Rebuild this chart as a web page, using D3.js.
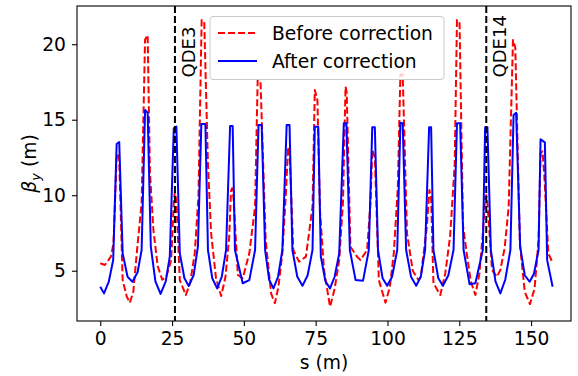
<!DOCTYPE html>
<html>
<head>
<meta charset="utf-8">
<script src="https://cdn.jsdelivr.net/npm/d3@7"></script>
<style>
  body { margin: 0; background: #fff; }
  svg text { font-family: "DejaVu Sans", sans-serif; }
</style>
</head>
<body>
<svg id="chart" width="578" height="376"></svg>
<script>
// Beta function along the ring, before and after correction
const sBefore = [0.0, 1.6, 3.7, 4.6, 5.7, 6.2, 6.6, 7.8, 9.2, 10.3, 11.5, 12.7, 14.4, 15.6, 16.5, 17.3, 18.5, 20.0, 21.6, 23.0, 24.7, 25.6, 26.0, 26.5, 27.7, 29.8, 31.3, 32.9, 34.2, 35.3, 36.2, 37.5, 38.6, 40.3, 42.1, 43.6, 44.9, 45.5, 45.9, 46.4, 47.9, 49.6, 51.9, 53.9, 54.8, 55.8, 57.6, 59.5, 60.8, 62.0, 63.4, 64.6, 65.4, 65.9, 67.2, 69.2, 71.6, 73.9, 74.7, 75.6, 76.5, 77.9, 80.0, 81.6, 83.2, 84.5, 85.4, 85.8, 87.1, 89.4, 90.6, 92.9, 94.1, 94.7, 95.6, 97.0, 99.3, 100.8, 102.2, 103.6, 104.5, 105.3, 106.8, 108.8, 110.8, 111.6, 113.7, 114.6, 115.2, 116.0, 118.4, 120.1, 121.8, 123.4, 124.2, 125.1, 126.3, 127.6, 129.0, 130.6, 132.0, 133.2, 134.0, 134.4, 134.8, 136.4, 138.1, 139.3, 140.8, 142.2, 143.7, 144.5, 146.1, 147.8, 149.6, 151.2, 152.6, 153.3, 154.0, 154.7, 156.0, 157.5];
const betaBefore = [5.49, 5.38, 5.93, 6.8, 12.5, 12.77, 12.3, 4.38, 3.3, 2.88, 3.6, 6.15, 9.5, 20.3, 20.6, 11.5, 7.7, 5.3, 4.4, 4.6, 5.71, 9.6, 10.23, 9.6, 4.38, 3.39, 4.2, 6.15, 10.0, 21.6, 21.5, 12.0, 7.48, 4.5, 3.32, 4.6, 7.26, 10.3, 10.46, 9.8, 4.72, 4.5, 6.15, 9.24, 17.63, 17.5, 7.0, 3.48, 2.85, 3.9, 6.15, 10.0, 13.2, 12.9, 6.37, 5.6, 5.93, 9.24, 16.97, 16.3, 9.0, 5.05, 2.62, 3.8, 5.71, 9.5, 17.19, 16.8, 6.59, 5.93, 5.71, 6.37, 9.5, 13.0, 12.5, 4.38, 2.88, 3.9, 6.15, 10.5, 18.0, 18.0, 7.48, 5.0, 4.38, 4.6, 7.9, 10.34, 9.8, 4.17, 3.39, 4.8, 7.26, 12.0, 21.6, 21.4, 8.0, 6.15, 4.3, 3.39, 4.8, 7.48, 9.8, 10.0, 9.5, 5.05, 4.6, 5.05, 6.5, 9.24, 20.28, 19.8, 6.8, 3.6, 2.79, 3.8, 7.0, 12.8, 12.9, 11.0, 6.15, 5.53];

const sAfter = [0.0, 1.3, 3.0, 4.5, 5.7, 6.6, 7.8, 9.5, 11.2, 13.0, 14.4, 15.6, 16.5, 17.6, 19.2, 21.0, 22.8, 24.2, 25.6, 26.5, 27.7, 29.3, 30.8, 32.5, 34.0, 35.2, 36.6, 37.5, 39.0, 40.7, 42.3, 43.8, 45.2, 46.1, 46.9, 49.6, 51.9, 53.9, 55.1, 56.2, 57.4, 58.8, 60.3, 61.9, 63.4, 64.9, 65.9, 66.9, 68.6, 70.4, 72.2, 73.9, 74.7, 75.9, 76.8, 78.4, 80.0, 81.6, 83.2, 84.8, 85.7, 86.9, 88.9, 91.5, 93.5, 94.7, 95.6, 96.7, 98.3, 99.9, 101.6, 103.4, 104.5, 105.3, 106.5, 108.2, 110.0, 111.6, 113.1, 114.5, 115.2, 116.0, 117.7, 119.3, 121.2, 123.0, 124.2, 125.3, 126.5, 128.6, 130.6, 133.2, 134.0, 134.8, 136.0, 137.6, 139.3, 141.0, 142.8, 143.9, 144.8, 146.2, 147.8, 149.5, 151.0, 152.6, 153.3, 154.8, 155.6, 157.5];
const betaAfter = [3.94, 3.5, 4.3, 5.71, 13.39, 13.52, 6.15, 4.6, 4.27, 4.9, 6.37, 15.64, 15.46, 6.59, 4.3, 3.46, 4.3, 5.93, 14.43, 14.54, 6.15, 4.5, 3.99, 4.7, 6.59, 14.72, 14.72, 6.37, 4.5, 3.83, 4.6, 6.37, 14.58, 14.58, 6.37, 4.17, 4.38, 6.37, 14.65, 14.65, 6.37, 4.4, 3.83, 4.6, 6.37, 14.65, 14.65, 6.37, 4.6, 4.0, 4.7, 6.37, 14.54, 14.54, 5.93, 4.3, 3.83, 4.6, 6.15, 14.76, 14.76, 6.37, 4.38, 4.34, 6.37, 14.5, 14.5, 6.37, 4.5, 4.0, 4.6, 6.37, 14.8, 14.76, 6.37, 4.6, 4.0, 4.6, 6.37, 14.5, 14.5, 6.37, 4.5, 4.0, 4.7, 6.37, 14.76, 14.76, 6.37, 4.1, 4.17, 6.37, 14.5, 14.5, 6.37, 4.3, 3.5, 4.4, 6.37, 15.31, 15.46, 6.59, 4.7, 4.27, 4.8, 6.37, 13.7, 13.5, 5.7, 3.94];

// Marked quadrupoles
const markerNames = ["QDE3", "QDE14"];
const markerS = [26.0, 134.4];

const xTicks = [0, 25, 50, 75, 100, 125, 150];
const yTicks = [5, 10, 15, 20];

// Plot frame
const frame = { left: 77, right: 571, top: 6, bottom: 321 };
const fontSize = 18.7;

const svg = d3.select("#chart");

const xScale = d3.scaleLinear()
    .domain([-8.1, 163.9])
    .range([frame.left, frame.right]);

const yScale = d3.scaleLinear()
    .domain([1.67, 22.53])
    .range([frame.bottom, frame.top]);

// Clip lines to the axes box
svg.append("clipPath").attr("id", "clip")
  .append("rect")
    .attr("x", frame.left).attr("y", frame.top)
    .attr("width", frame.right - frame.left)
    .attr("height", frame.bottom - frame.top);

const plot = svg.append("g").attr("clip-path", "url(#clip)");

const line = d3.line()
    .x(d => xScale(d[0]))
    .y(d => yScale(d[1]));

const before = sBefore.map((s, i) => [s, betaBefore[i]]);
const after = sAfter.map((s, i) => [s, betaAfter[i]]);

plot.append("path")
    .datum(before)
    .attr("d", line)
    .attr("fill", "none")
    .attr("stroke", "#ff0000")
    .attr("stroke-width", 2)
    .attr("stroke-dasharray", "7,3")
    .attr("stroke-linejoin", "round");

plot.append("path")
    .datum(after)
    .attr("d", line)
    .attr("fill", "none")
    .attr("stroke", "#0000ff")
    .attr("stroke-width", 2)
    .attr("stroke-linejoin", "round");

// Vertical marker lines with rotated labels
markerS.forEach((s, i) => {
  plot.append("line")
      .attr("x1", xScale(s)).attr("x2", xScale(s))
      .attr("y1", frame.top).attr("y2", frame.bottom)
      .attr("stroke", "#000")
      .attr("stroke-width", 2)
      .attr("stroke-dasharray", "7,3");
  svg.append("text")
      .attr("transform", `translate(${xScale(s) + 20},${yScale(17.8)}) rotate(-90)`)
      .attr("font-size", 18)
      .attr("fill", "#000")
      .text(markerNames[i]);
});

// Axes
const xAxis = d3.axisBottom(xScale).tickValues(xTicks).tickSize(5).tickPadding(6);
const yAxis = d3.axisLeft(yScale).tickValues(yTicks).tickSize(5).tickPadding(6);

const xg = svg.append("g")
    .attr("transform", `translate(0,${frame.bottom})`)
    .call(xAxis);
const yg = svg.append("g")
    .attr("transform", `translate(${frame.left},0)`)
    .call(yAxis);

[xg, yg].forEach(g => {
  g.select(".domain").remove();
  g.selectAll("line").attr("stroke", "#000").attr("stroke-width", 1.1);
  g.selectAll("text").attr("font-size", fontSize).attr("fill", "#000")
      .style("font-family", "DejaVu Sans, sans-serif");
});

// Frame
svg.append("rect")
    .attr("x", frame.left).attr("y", frame.top)
    .attr("width", frame.right - frame.left)
    .attr("height", frame.bottom - frame.top)
    .attr("fill", "none")
    .attr("stroke", "#000")
    .attr("stroke-width", 1.1);

// Axis labels
svg.append("text")
    .attr("x", (frame.left + frame.right) / 2)
    .attr("y", 369)
    .attr("text-anchor", "middle")
    .attr("font-size", fontSize)
    .text("s (m)");

const ylab = svg.append("text")
    .attr("transform", `translate(36,${(frame.top + frame.bottom) / 2}) rotate(-90)`)
    .attr("text-anchor", "middle")
    .attr("font-size", fontSize);
ylab.append("tspan").attr("font-style", "italic").text("β");
ylab.append("tspan").attr("font-style", "italic").attr("font-size", 13).attr("dy", 4).text("y");
ylab.append("tspan").attr("dy", -4).text(" (m)");

// Legend
const legend = svg.append("g");
legend.append("rect")
    .attr("x", 210).attr("y", 16.5)
    .attr("width", 234).attr("height", 63)
    .attr("rx", 3)
    .attr("fill", "#fff").attr("fill-opacity", 0.8)
    .attr("stroke", "#cccccc").attr("stroke-width", 1);

const legendItems = [
  { label: "Before correction", color: "#ff0000", dash: "7,3" },
  { label: "After correction", color: "#0000ff", dash: null }
];
legendItems.forEach((d, i) => {
  const y = 33 + i * 28;
  legend.append("line")
      .attr("x1", 218).attr("x2", 257)
      .attr("y1", y).attr("y2", y)
      .attr("stroke", d.color)
      .attr("stroke-width", 2)
      .attr("stroke-dasharray", d.dash);
  legend.append("text")
      .attr("x", 272).attr("y", y)
      .attr("dy", "0.35em")
      .attr("font-size", fontSize)
      .text(d.label);
});
</script>
</body>
</html>
